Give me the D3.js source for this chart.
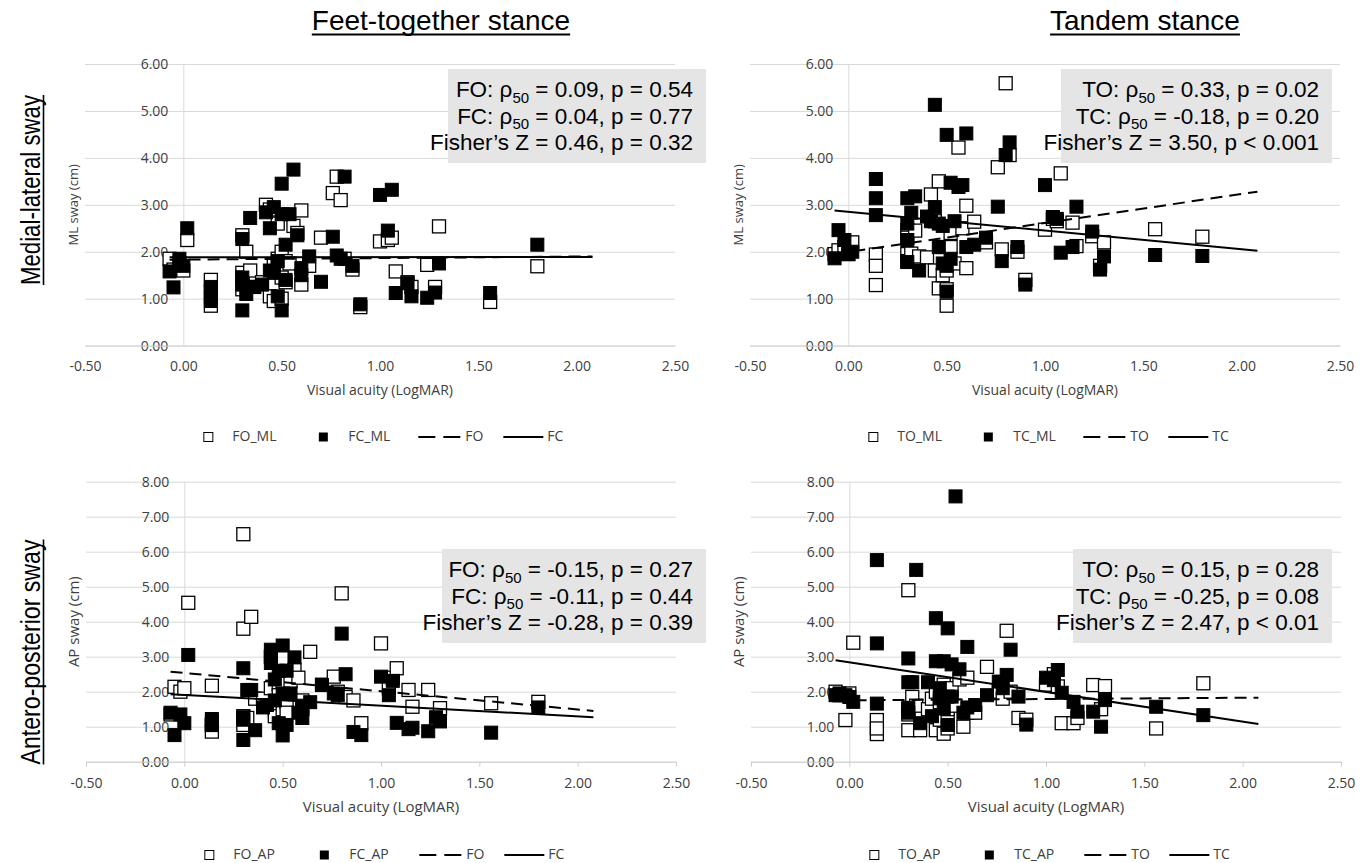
<!DOCTYPE html>
<html lang="en">
<head>
<meta charset="UTF-8">
<title>Postural sway vs visual acuity</title>
<script src="https://d3js.org/d3.v7.min.js"></script>
<style>
  body { margin: 0; background: #fff; }
  svg { display: block; }
</style>
</head>
<body>
<svg id="chart" width="1369" height="863"></svg>
<script>
// visual acuity (LogMAR), one value per participant
var acuity = [-0.07, -0.05, -0.02, 0.00, 0.02, 0.14, 0.14, 0.14, 0.30, 0.30, 0.30, 0.30, 0.32, 0.34, 0.36,
  0.40, 0.42, 0.44, 0.44, 0.46, 0.46, 0.48, 0.48, 0.50, 0.50, 0.50, 0.52, 0.52, 0.54, 0.56, 0.58, 0.60, 0.60,
  0.64, 0.70, 0.76, 0.78, 0.80, 0.82, 0.86, 0.90, 1.00, 1.04, 1.06, 1.08, 1.14, 1.16, 1.24, 1.28, 1.30, 1.56, 1.80];

// sway (cm) per participant
var foML = [1.85, 1.62, 1.75, 1.60, 2.25, 1.40, 0.85, 1.15, 2.35, 1.55, 1.20, 1.45, 2.00, 1.60, 1.25,
  1.35, 3.00, 2.90, 1.05, 1.70, 0.95, 1.85, 2.60, 1.00, 1.45, 2.00, 1.80, 1.35, 1.75, 2.55, 2.40, 2.88, 1.30,
  1.70, 2.30, 3.25, 3.60, 3.10, 1.85, 1.62, 0.82, 2.22, 2.25, 2.30, 1.58, 1.35, 1.25, 1.72, 1.25, 2.54, 0.93, 1.69];
var fcML = [1.58, 1.24, 1.85, 1.70, 2.50, 1.25, 1.05, 0.95, 2.27, 1.45, 0.75, 1.30, 1.10, 2.72, 1.25,
  1.30, 2.84, 2.50, 1.60, 2.95, 1.55, 1.80, 1.05, 3.45, 2.80, 0.75, 2.15, 1.40, 2.80, 3.75, 2.35, 1.65, 1.50,
  1.90, 1.36, 2.32, 1.92, 1.85, 3.60, 1.70, 0.88, 3.21, 2.45, 3.32, 1.12, 1.33, 1.05, 1.02, 1.13, 1.75, 1.12, 2.15];
var toML = [1.95, 2.03, 2.10, 1.95, 2.20, 1.94, 1.70, 1.29, 2.46, 2.30, 1.95, 1.80, 1.96, 2.45, 1.90,
  1.88, 3.22, 1.60, 2.65, 1.22, 3.50, 2.10, 1.50, 0.85, 1.20, 1.60, 2.40, 2.10, 1.75, 4.22, 2.50, 2.98, 1.65,
  2.64, 2.20, 3.80, 2.05, 5.59, 4.06, 2.00, 1.40, 2.47, 2.70, 2.65, 3.67, 2.62, 2.12, 2.33, 1.70, 2.20, 2.48, 2.32];
var tcML = [1.86, 2.46, 2.25, 1.95, 2.00, 3.55, 3.14, 2.78, 3.14, 2.25, 1.78, 2.60, 2.83, 3.18, 1.60,
  2.75, 2.65, 5.13, 2.95, 2.10, 2.60, 2.55, 1.75, 4.49, 1.70, 1.15, 3.47, 1.85, 2.65, 3.38, 3.42, 4.52, 2.10,
  2.15, 2.30, 2.96, 1.80, 4.06, 4.33, 2.10, 1.30, 3.42, 2.74, 2.70, 1.98, 2.10, 2.96, 2.43, 1.62, 1.90, 1.93, 1.91];
var foAP = [1.35, 2.14, 2.00, 2.10, 4.54, 2.17, 0.86, 1.05, 6.50, 3.80, 1.05, 1.30, 1.25, 4.14, 1.80,
  1.80, 1.60, 2.10, 3.00, 1.50, 1.30, 2.20, 1.90, 1.50, 1.10, 2.30, 1.70, 1.40, 2.30, 2.63, 2.40, 1.75, 1.50,
  3.14, 2.20, 2.43, 2.00, 4.81, 1.85, 1.75, 1.10, 3.38, 2.10, 2.40, 2.67, 2.05, 1.57, 2.05, 1.20, 1.53, 1.67, 1.71];
var fcAP = [1.40, 0.76, 1.35, 1.10, 3.05, 1.22, 1.05, 1.15, 2.67, 1.27, 0.62, 1.20, 2.05, 2.05, 0.90,
  1.55, 1.62, 3.20, 2.82, 1.75, 2.35, 2.60, 1.10, 3.32, 0.75, 1.95, 2.60, 1.05, 1.95, 2.98, 1.40, 1.25, 1.60,
  1.70, 2.19, 1.95, 1.90, 3.66, 2.50, 0.85, 0.76, 2.43, 1.90, 2.31, 1.11, 0.93, 0.97, 0.87, 1.27, 1.15, 0.83, 1.55];
var toAP = [2.00, 1.90, 1.19, 1.95, 3.40, 1.19, 0.79, 0.95, 4.90, 0.90, 1.50, 1.35, 1.85, 1.60, 0.90,
  1.50, 1.80, 0.90, 2.00, 1.20, 1.70, 0.80, 2.20, 1.33, 0.95, 1.50, 1.80, 2.10, 1.60, 2.35, 1.00, 2.40, 1.40,
  1.40, 2.71, 2.00, 1.80, 3.74, 2.00, 1.25, 1.20, 2.20, 2.50, 2.15, 1.10, 1.10, 1.25, 2.19, 1.50, 2.16, 0.95, 2.24];
var tcAP = [1.90, 1.95, 1.90, 1.85, 1.71, 5.76, 3.38, 1.66, 2.95, 1.54, 1.40, 2.27, 2.27, 5.48, 1.10,
  2.27, 1.30, 4.10, 2.87, 2.10, 1.81, 2.87, 1.52, 3.81, 1.05, 1.86, 2.78, 1.86, 7.58, 2.64, 1.40, 3.28, 1.55,
  1.62, 1.90, 2.29, 2.10, 2.48, 3.20, 1.86, 1.06, 2.40, 2.33, 2.62, 1.97, 1.71, 1.43, 1.43, 1.00, 1.76, 1.57, 1.33];

// linear trendlines: value at each end of trendX
var trendX = [-0.07, 2.08];
var trendFO_ML = [1.83, 1.90], trendFC_ML = [1.88, 1.89];
var trendTO_ML = [1.95, 3.28], trendTC_ML = [2.88, 2.02];
var trendFO_AP = [2.57, 1.45], trendFC_AP = [1.93, 1.27];
var trendTO_AP = [1.75, 1.83], trendTC_AP = [2.90, 1.08];

// [condition, rho50, p] x2, then [Z, p]
var statsFeetML = [["FO", "0.09", "p = 0.54"], ["FC", "0.04", "p = 0.77"], ["0.46", "p = 0.32"]];
var statsTandemML = [["TO", "0.33", "p = 0.02"], ["TC", "-0.18", "p = 0.20"], ["3.50", "p < 0.001"]];
var statsFeetAP = [["FO", "-0.15", "p = 0.27"], ["FC", "-0.11", "p = 0.44"], ["-0.28", "p = 0.39"]];
var statsTandemAP = [["TO", "0.15", "p = 0.28"], ["TC", "-0.25", "p = 0.08"], ["2.47", "p < 0.01"]];

var xTicks = [-0.5, 0, 0.5, 1, 1.5, 2, 2.5];
var yTicksML = [0, 1, 2, 3, 4, 5, 6];
var yTicksAP = [0, 1, 2, 3, 4, 5, 6, 7, 8];

var sansUI = "'Open Sans', 'Noto Sans', sans-serif";
var arial = "'Liberation Sans', Arial, sans-serif";
var svg = d3.select("#chart");
var fmt = function (d) { return d.toFixed(2); };

var panels = [
  {left: 85, right: 675, top: 64, bottom: 345.6, yTicks: yTicksML, yLabel: "ML sway (cm)", yLabelSize: 13,
   xLabelSize: 14, open: foML, filled: fcML, names: ["FO_ML", "FC_ML", "FO", "FC"],
   dashed: trendFO_ML, solid: trendFC_ML, stats: statsFeetML, box: [448, 706, 69], tickLen: 0, legendY: 437},
  {left: 750, right: 1340, top: 64, bottom: 345.6, yTicks: yTicksML, yLabel: "ML sway (cm)", yLabelSize: 13,
   xLabelSize: 14, open: toML, filled: tcML, names: ["TO_ML", "TC_ML", "TO", "TC"],
   dashed: trendTO_ML, solid: trendTC_ML, stats: statsTandemML, box: [1061, 1332, 69], tickLen: 0, legendY: 437},
  {left: 86, right: 676, top: 481.7, bottom: 761.7, yTicks: yTicksAP, yLabel: "AP sway (cm)", yLabelSize: 15,
   xLabelSize: 15, open: foAP, filled: fcAP, names: ["FO_AP", "FC_AP", "FO", "FC"],
   dashed: trendFO_AP, solid: trendFC_AP, stats: statsFeetAP, box: [442, 706, 549], tickLen: 5, legendY: 855},
  {left: 751, right: 1341, top: 481.7, bottom: 761.7, yTicks: yTicksAP, yLabel: "AP sway (cm)", yLabelSize: 15,
   xLabelSize: 15, open: toAP, filled: tcAP, names: ["TO_AP", "TC_AP", "TO", "TC"],
   dashed: trendTO_AP, solid: trendTC_AP, stats: statsTandemAP, box: [1073, 1332, 549], tickLen: 5, legendY: 855}
];

function drawPanel(p) {
  var g = svg.append("g");
  var yMax = p.yTicks[p.yTicks.length - 1];
  var x = d3.scaleLinear().domain([-0.5, 2.5]).range([p.left, p.right]);
  var y = d3.scaleLinear().domain([0, yMax]).range([p.bottom, p.top]);

  // horizontal gridlines
  var grid = g.append("g").attr("transform", "translate(" + p.right + ",0)")
    .call(d3.axisLeft(y).tickValues(p.yTicks).tickSize(p.right - p.left).tickFormat(""));
  grid.select(".domain").remove();
  grid.selectAll("line").attr("stroke", "#d9d9d9");

  // y axis at x = 0
  var ya = g.append("g").attr("transform", "translate(" + x(0) + ",0)")
    .call(d3.axisLeft(y).tickValues(p.yTicks).tickFormat(fmt).tickSize(0).tickSizeOuter(0).tickPadding(15));
  ya.select(".domain").attr("stroke", "#d9d9d9");
  ya.selectAll("text").attr("font-family", sansUI).attr("font-size", 14).attr("fill", "#404040");

  // x axis
  var xa = g.append("g").attr("transform", "translate(0," + y(0) + ")")
    .call(d3.axisBottom(x).tickValues(xTicks).tickFormat(fmt).tickSize(p.tickLen).tickSizeOuter(0)
      .tickPadding(p.tickLen ? 11 : 15));
  xa.select(".domain").attr("stroke", "#d0d0d0");
  xa.selectAll("line").attr("stroke", "#d0d0d0");
  xa.selectAll("text").attr("font-family", sansUI).attr("font-size", 14).attr("fill", "#404040");

  // axis titles
  g.append("text").attr("x", (p.left + p.right) / 2).attr("y", y(0) + 46)
    .attr("text-anchor", "middle").attr("dominant-baseline", "middle")
    .attr("font-family", sansUI).attr("font-size", p.xLabelSize).attr("fill", "#404040")
    .text("Visual acuity (LogMAR)");
  g.append("text")
    .attr("transform", "translate(" + (x(0) - 109) + "," + ((p.top + p.bottom) / 2) + ") rotate(-90)")
    .attr("text-anchor", "middle").attr("dominant-baseline", "middle")
    .attr("font-family", sansUI).attr("font-size", p.yLabelSize).attr("fill", "#404040")
    .text(p.yLabel);

  // markers: open series first, filled on top
  var s = 13;
  g.append("g").selectAll("rect").data(d3.zip(acuity, p.open)).join("rect")
    .attr("x", function (d) { return x(d[0]) - s / 2; })
    .attr("y", function (d) { return y(d[1]) - s / 2; })
    .attr("width", s).attr("height", s)
    .attr("fill", "#fff").attr("stroke", "#000").attr("stroke-width", 1.3);
  g.append("g").selectAll("rect").data(d3.zip(acuity, p.filled)).join("rect")
    .attr("x", function (d) { return x(d[0]) - s / 2; })
    .attr("y", function (d) { return y(d[1]) - s / 2; })
    .attr("width", s).attr("height", s)
    .attr("fill", "#000").attr("stroke", "#000").attr("stroke-width", 1);

  // trendlines
  var line = d3.line().x(function (d) { return x(d[0]); }).y(function (d) { return y(d[1]); });
  g.append("path").datum(d3.zip(trendX, p.dashed)).attr("d", line)
    .attr("fill", "none").attr("stroke", "#000").attr("stroke-width", 2).attr("stroke-dasharray", "12,7");
  g.append("path").datum(d3.zip(trendX, p.solid)).attr("d", line)
    .attr("fill", "none").attr("stroke", "#000").attr("stroke-width", 2);

  // stats box
  var bx0 = p.box[0], bx1 = p.box[1], by0 = p.box[2];
  g.append("rect").attr("x", bx0).attr("y", by0).attr("width", bx1 - bx0).attr("height", 94)
    .attr("fill", "#e5e5e5");
  var tx = bx1 - 13;
  [p.stats[0], p.stats[1]].forEach(function (r, i) {
    var t = g.append("text").attr("x", tx).attr("y", by0 + 28 + i * 26.5).attr("text-anchor", "end")
      .attr("font-family", arial).attr("font-size", 22.5).attr("fill", "#000");
    t.append("tspan").text(r[0] + ": ρ");
    t.append("tspan").attr("font-size", 15).attr("dy", 5.5).text("50");
    t.append("tspan").attr("dy", -5.5).text(" = " + r[1] + ", " + r[2]);
  });
  g.append("text").attr("x", tx).attr("y", by0 + 81).attr("text-anchor", "end")
    .attr("font-family", arial).attr("font-size", 22.5).attr("fill", "#000")
    .text("Fisher\u2019s Z = " + p.stats[2][0] + ", " + p.stats[2][1]);

  // legend
  var lx = x(0) + 25, ly = p.legendY;
  var lg = g.append("g").attr("font-family", sansUI).attr("font-size", 14).attr("fill", "#404040");
  lg.append("rect").attr("x", lx - 4.5).attr("y", ly - 4.5).attr("width", 9).attr("height", 9)
    .attr("fill", "#fff").attr("stroke", "#000").attr("stroke-width", 1);
  lg.append("rect").attr("x", lx + 110.5).attr("y", ly - 4.5).attr("width", 9).attr("height", 9)
    .attr("fill", "#000");
  lg.append("line").attr("x1", lx + 210).attr("x2", lx + 255).attr("y1", ly).attr("y2", ly)
    .attr("stroke", "#000").attr("stroke-width", 2).attr("stroke-dasharray", "17,8");
  lg.append("line").attr("x1", lx + 295).attr("x2", lx + 335).attr("y1", ly).attr("y2", ly)
    .attr("stroke", "#000").attr("stroke-width", 2);
  [24, 140, 257, 339].forEach(function (off, i) {
    lg.append("text").attr("x", lx + off).attr("y", ly).attr("dominant-baseline", "middle")
      .text(p.names[i]);
  });
}

panels.forEach(drawPanel);

// column titles
var titles = [["Feet-together stance", 441], ["Tandem stance", 1145]];
titles.forEach(function (t) {
  var el = svg.append("text").attr("x", t[1]).attr("y", 30).attr("text-anchor", "middle")
    .attr("font-family", arial).attr("font-size", 28).attr("fill", "#000").text(t[0]);
  var w = el.node().getComputedTextLength();
  svg.append("line").attr("x1", t[1] - w / 2).attr("x2", t[1] + w / 2).attr("y1", 34.5).attr("y2", 34.5)
    .attr("stroke", "#000").attr("stroke-width", 1.8);
});

// row titles (condensed)
var rows = [["Medial-lateral sway", 190, 190], ["Antero-posterior sway", 652, 225]];
rows.forEach(function (r) {
  var rg = svg.append("g").attr("transform", "translate(40," + r[1] + ") rotate(-90)");
  rg.append("text").attr("text-anchor", "middle").attr("font-family", arial).attr("font-size", 27)
    .attr("fill", "#000").attr("textLength", r[2]).attr("lengthAdjust", "spacingAndGlyphs").text(r[0]);
  rg.append("line").attr("x1", -r[2] / 2).attr("x2", r[2] / 2).attr("y1", 3.5).attr("y2", 3.5)
    .attr("stroke", "#000").attr("stroke-width", 1.6);
});
</script>
</body>
</html>
